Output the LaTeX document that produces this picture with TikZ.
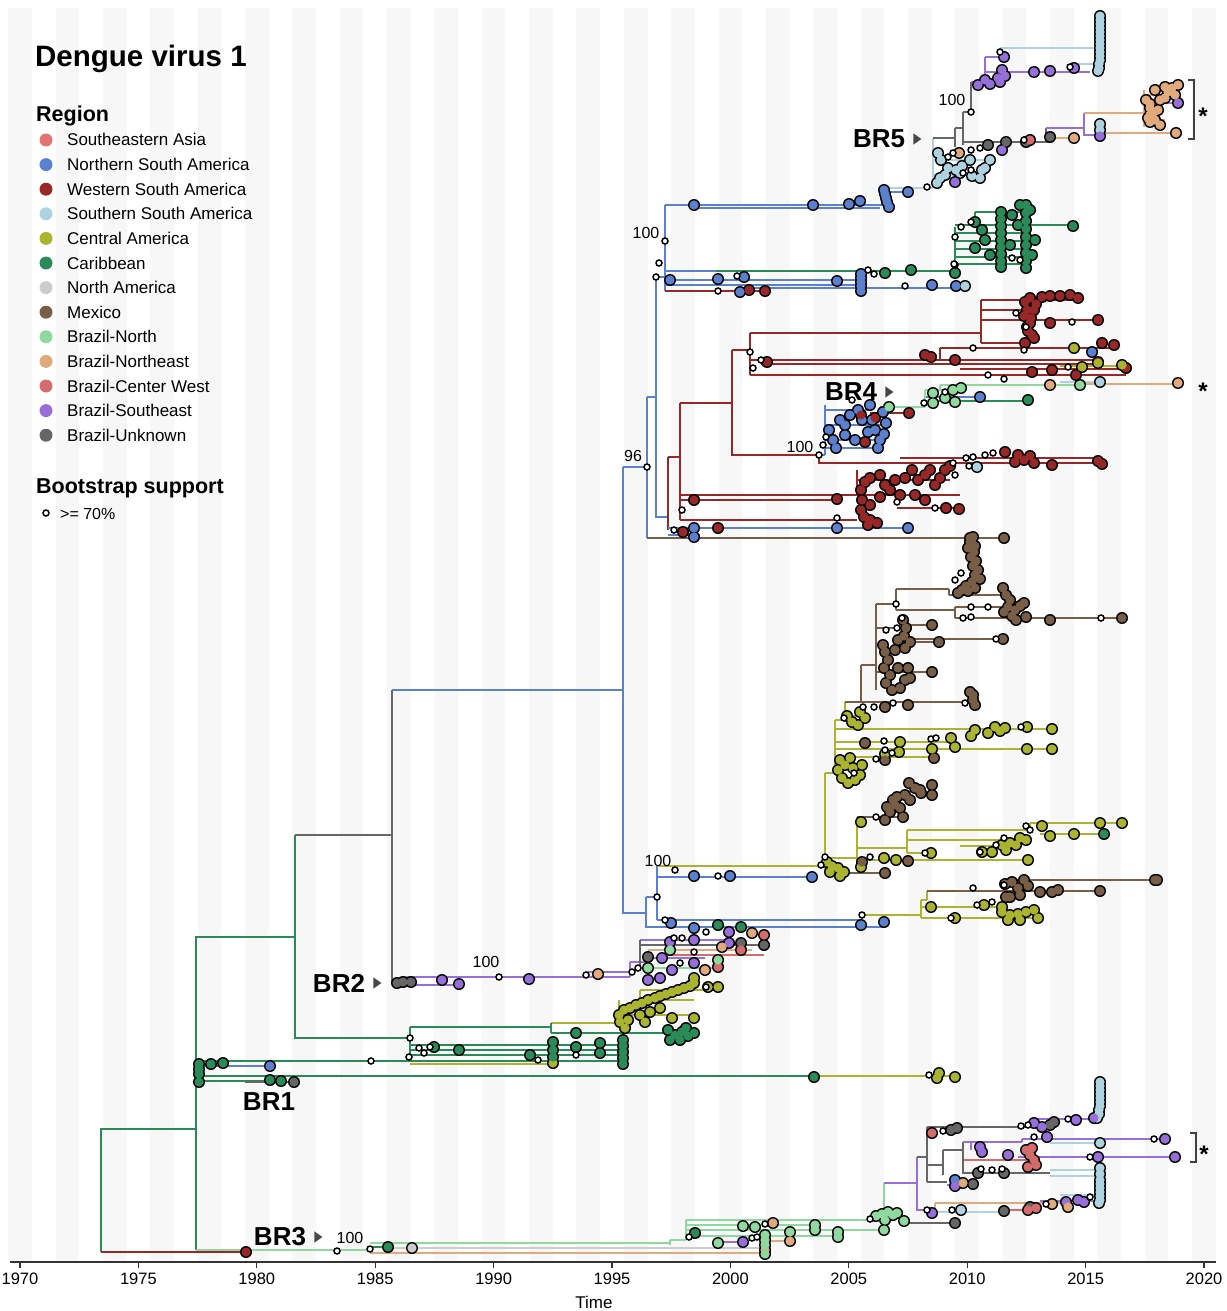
\documentclass[tikz,border=0pt]{standalone}
\usepackage{fontspec}
\setmainfont{Liberation Sans}
\usetikzlibrary{positioning,shapes.geometric}

\definecolor{seasia}{RGB}{226,116,116}
\definecolor{nsam}{RGB}{91,128,206}
\definecolor{wsam}{RGB}{152,40,40}
\definecolor{ssam}{RGB}{174,210,224}
\definecolor{cam}{RGB}{171,180,48}
\definecolor{carib}{RGB}{42,139,88}
\definecolor{nam}{RGB}{204,204,204}
\definecolor{mex}{RGB}{120,94,70}
\definecolor{brn}{RGB}{143,216,158}
\definecolor{brne}{RGB}{224,170,124}
\definecolor{brcw}{RGB}{212,108,108}
\definecolor{brse}{RGB}{150,112,216}
\definecolor{brunk}{RGB}{102,102,102}
\definecolor{stripegray}{RGB}{247,247,247}

\tikzset{
  br/.style={line width=2.8pt},
  bootdot/.style={draw=black,fill=white,line width=1.5pt},
  brlbl/.style={font=\fontsize{26}{28}\selectfont\bfseries,inner sep=0pt},
  bslbl/.style={font=\fontsize{16}{18}\selectfont,inner sep=0pt},
  brmark/.style={isosceles triangle,isosceles triangle apex angle=70,
    fill=black!72,inner sep=0pt,minimum size=8pt},
  starlbl/.style={font=\fontsize{24}{26}\selectfont\bfseries,inner sep=0pt},
  bracketln/.style={draw=black!75,line width=1.5pt},
  legtitle/.style={font=\fontsize{21.5}{24}\selectfont\bfseries,anchor=base west,inner sep=0pt},
  legtxt/.style={font=\fontsize{17}{19}\selectfont,anchor=base west,inner sep=0pt},
  ticklbl/.style={font=\fontsize{16.5}{18}\selectfont,anchor=base,inner sep=0pt},
  axisln/.style={draw=black!80,line width=1.2pt},
}
\newcommand\tiprims[1]{\foreach \tx/\ty in #1{\fill[black] (\tx,\ty) circle[radius=6pt];}}
\newcommand\tipfills[2]{\foreach \tx/\ty in #2{\fill[#1] (\tx,\ty) circle[radius=4.6pt];}}
\newcommand\bootdots[1]{\foreach \tx/\ty in {#1}{\filldraw[bootdot] (\tx,\ty) circle[radius=3pt];}}

\begin{document}
\begin{tikzpicture}[x=1pt,y=-1pt]
  \useasboundingbox (0,0) rectangle (1226,1311);
  \foreach \k in {0,...,25}
    \fill[stripegray] ({20+23.68*(2*\k-0.5)},8) rectangle ++(23.68,1254);
  \draw[axisln] (10,1262) -- (1216,1262);
  \foreach \yr [count=\i from 0] in {1970,1975,...,2020}{
    \draw[axisln] ({20+118.4*\i},1262) -- ++(0,6);
    \node[ticklbl] (tick\yr) at ({20+118.4*\i},1284) {\yr};
  }
  \node[ticklbl,font=\fontsize{17}{19}\selectfont] (timelbl) at (594,1308) {Time};

  % legend
  \node[anchor=base west,inner sep=0pt,font=\fontsize{29.5}{32}\selectfont\bfseries] (title) at (35,67) {Dengue virus 1};
  \node[legtitle] (regionhd) at (36,122) {Region};
  \foreach \c/\t [count=\i] in {seasia/Southeastern Asia,nsam/Northern South America,
      wsam/Western South America,ssam/Southern South America,cam/Central America,
      carib/Caribbean,nam/North America,mex/Mexico,brn/Brazil-North,brne/Brazil-Northeast,
      brcw/Brazil-Center West,brse/Brazil-Southeast,brunk/Brazil-Unknown}{
    \fill[\c] (46,{115.4+24.6*\i}) circle[radius=6.5pt];
    \node[legtxt] (leg\i) at (67,{121.4+24.6*\i}) {\t};
  }
  \node[legtitle] (boothd) at (36,493) {Bootstrap support};
  \filldraw[bootdot] (46,513) circle[radius=3pt];
  \node[legtxt,font=\fontsize{16}{18}\selectfont] (bootkey) at (60,519) {>= 70\%};

  % backbone
  \draw[br,carib] (295,937) -| (196,1250) (196,1129) -| (101,1252);
  \draw[br,wsam] (101,1252) -- (246,1252);
  \draw[br,carib] (295,835) -- (295,1038) -- (410,1038);
  \draw[br,brunk] (295,835) -- (392,835) (392,690) -- (392,983) -- (411,983);
  \draw[br,nsam] (392,690) -- (623,690) (623,467) -- (623,913) -- (646,913) (623,467) -- (647,467)
    (647,397) -- (647,538) (647,397) -- (656,397) (656,277) -- (656,517) -- (668,517)
    (656,277) -- (665,277) (665,205) -- (665,291);
  \draw[br,mex] (647,538) -- (1004,538);
  \draw[br,wsam] (668,457) -- (668,530) (668,457) -- (680,457) (680,403) -- (680,520)
    (680,403) -- (732,403) (732,350) -- (732,455) -- (819,455) (732,350) -- (750,350) (750,333) -- (750,375);

  % BR5 and northern south america
  \draw[br,nsam] (665,205) -- (885,205) (690,208) -- (880,208) (885,192) -- (908,192)
    (665,280) -- (861,280) (665,285) -- (861,285) (740,288) -- (965,288) (665,271) -- (716,271);
  \draw[br,wsam] (665,291) -- (765,291);
  \draw[br,carib] (716,271) -- (955,271);
  \draw[br,ssam] (885,188) -- (933,188) (933,138) -- (933,188) (933,160) -- (990,160) (933,175) -- (985,175)
    (1000,48) -- (1100,48) (1000,48) -- (1000,57) (1074,64) -- (1100,64);
  \draw[br,brunk] (933,138) -- (955,138) (955,128) -- (955,147) (955,128) -- (963,128) (963,112) -- (963,145)
    (963,112) -- (971,112) (971,82) -- (971,112) (963,142) -- (1050,142) (1046,128) -- (1046,142);
  \draw[br,brse] (971,82) -- (985,82) (985,57) -- (985,82) (985,57) -- (1000,57) (985,72) -- (1090,72)
    (1046,128) -- (1084,128) (1084,113) -- (1084,135) -- (1100,135) (1155,103) -- (1178,103);
  \draw[br,brne] (1050,138) -- (1074,138) (1084,113) -- (1144,113) (1100,133) -- (1176,133)
    (1144,90) -- (1144,127) (1144,95) -- (1170,95) (1144,120) -- (1165,120);
  \draw[br,carib] (955,227) -- (955,270) (955,225) -- (1073,225) (955,233) -- (1026,233) (955,241) -- (1030,241)
    (955,249) -- (1026,249) (955,257) -- (1030,257) (955,264) -- (1026,264) (975,212) -- (1026,212) (975,212) -- (975,225);

  % western south america and BR4
  \draw[br,wsam] (750,333) -- (981,333) (981,300) -- (981,343) (981,300) -- (1078,300) (981,310) -- (1040,310)
    (981,320) -- (1098,320) (981,343) -- (1030,343) (750,360) -- (1098,360) (761,364) -- (1098,364)
    (940,348) -- (1114,348) (940,348) -- (940,360) (750,375) -- (1126,375) (960,369) -- (1126,369)
    (870,413) -- (909,413) (819,455) -- (819,463) -- (1102,463) (900,458) -- (1100,458)
    (680,500) -- (837,500) (680,495) -- (960,495) (857,470) -- (857,495) (857,480) -- (950,480)
    (897,508) -- (959,508) (680,520) -- (857,520);
  \draw[br,cam] (1060,366) -- (1122,366);
  \draw[br,nsam] (819,455) -- (825,455) (825,405) -- (825,455) (825,410) -- (870,410) (825,425) -- (886,425)
    (825,440) -- (884,440) (825,448) -- (880,448) (925,397) -- (980,397) (668,528) -- (909,528) (668,535) -- (700,535);
  \draw[br,brn] (880,407) -- (925,407) (925,390) -- (925,407) (925,390) -- (961,390) (940,385) -- (1080,385) (940,385) -- (940,390);
  \draw[br,carib] (935,401) -- (1028,401);
  \draw[br,brne] (1080,384) -- (1178,384);
  \draw[br,ssam] (1060,382) -- (1100,382);

  % mexico and central america
  \draw[br,nsam] (646,897) -- (646,928) (646,897) -- (657,897) (657,866) -- (657,920) (657,877) -- (812,877)
    (657,920) -- (862,920) (646,927) -- (884,927);
  \draw[br,cam] (657,866) -- (825,866) (825,773) -- (825,873) (825,773) -- (835,773) (835,720) -- (835,773)
    (835,720) -- (845,720) (845,702) -- (845,720) (825,873) -- (845,873);
  \draw[br,mex] (845,702) -- (969,702) (861,665) -- (861,702) (861,665) -- (876,665) (876,604) -- (876,690)
    (876,672) -- (932,672) (876,604) -- (896,604) (896,589) -- (896,610) (896,589) -- (949,589) (949,589) -- (949,595)
    (949,595) -- (1005,595) (896,610) -- (955,610) (955,607) -- (955,618) (955,607) -- (1020,607) (955,618) -- (1122,618)
    (876,628) -- (905,628) (905,625) -- (905,648) (905,625) -- (932,625) (905,642) -- (939,642) (905,639) -- (1003,639)
    (857,817) -- (903,817) (845,873) -- (885,873);
  \draw[br,cam] (835,729) -- (1052,729) (835,742) -- (953,742) (835,749) -- (1052,749) (835,757) -- (934,757)
    (845,716) -- (865,716) (825,858) -- (857,858) (857,817) -- (857,866) (857,848) -- (907,848) (907,830) -- (907,853)
    (907,830) -- (1030,830) (1030,823) -- (1122,823) (1030,823) -- (1030,830) (907,840) -- (1026,840) (907,853) -- (931,853)
    (1040,834) -- (1104,834) (857,860) -- (1028,860) (960,846) -- (1020,846);
  \draw[br,cam] (862,915) -- (921,915) (921,900) -- (921,918) (921,918) -- (1038,918) (921,907) -- (1002,907)
    (921,900) -- (927,900) (927,891) -- (927,900);
  \draw[br,mex] (927,891) -- (1100,891) (1004,880) -- (1004,891) (1004,880) -- (1156,880);

  % BR2, BR1 and the caribbean
  \draw[br,brse] (401,977) -- (630,977) (401,985) -- (459,985) (587,972) -- (630,972) (630,962) -- (630,977)
    (630,962) -- (648,962) (640,940) -- (729,940) (648,958) -- (705,958);
  \draw[br,brunk] (640,945) -- (764,945) (640,940) -- (640,968);
  \draw[br,brne] (648,950) -- (752,950);
  \draw[br,brcw] (670,955) -- (764,955);
  \draw[br,brn] (648,968) -- (718,968);
  \draw[br,cam] (551,1023) -- (619,1023) (619,1000) -- (619,1025) (619,1015) -- (694,1015) (640,990) -- (640,1005)
    (640,1000) -- (694,1000) (640,990) -- (718,990);
  \draw[br,carib] (410,1027) -- (410,1061) (410,1027) -- (551,1027) (551,1023) -- (551,1033) (551,1033) -- (690,1033)
    (410,1045) -- (623,1045) (410,1050) -- (623,1050) (410,1055) -- (623,1055) (196,1061) -- (623,1061)
    (196,1076) -- (814,1076) (196,1081) -- (281,1081);
  \draw[br,cam] (410,1064) -- (553,1064) (814,1076) -- (955,1076);
  \draw[br,nsam] (205,1066) -- (270,1066);
  \draw[br,brunk] (245,1082) -- (294,1082);

  % BR3
  \draw[br,brn] (196,1250) -- (370,1250) (370,1243) -- (670,1243) (670,1240) -- (670,1245) (670,1240) -- (686,1240)
    (686,1220) -- (686,1240) (686,1220) -- (884,1220) (686,1225) -- (815,1225) (686,1230) -- (884,1230)
    (686,1236) -- (838,1236) (884,1183) -- (884,1220);
  \draw[br,nam] (388,1248) -- (760,1248);
  \draw[br,brne] (370,1253) -- (765,1253) (765,1241) -- (790,1241) (935,1203) -- (1068,1203) (935,1203) -- (935,1212);
  \draw[br,carib] (370,1247) -- (388,1247);
  \draw[br,brse] (720,1242) -- (743,1242) (884,1183) -- (917,1183) (917,1157) -- (917,1210) -- (935,1210)
    (1040,1201) -- (1100,1201);
  \draw[br,brunk] (904,1223) -- (955,1223);
  \draw[br,ssam] (935,1212) -- (1000,1212) (1060,1195) -- (1100,1195);
  \draw[br,brcw] (1000,1210) -- (1036,1210) (963,1160) -- (1030,1160);
  \draw[br,brunk] (917,1157) -- (927,1157) (927,1127) -- (927,1182) (927,1127) -- (1054,1127) (927,1182) -- (947,1182)
    (927,1165) -- (943,1165) (943,1150) -- (943,1175) (943,1150) -- (963,1150) (963,1142) -- (963,1173) -- (1050,1173);
  \draw[br,brse] (947,1185) -- (973,1185) (1034,1119) -- (1098,1119) (963,1142) -- (1022,1142) (971,1142) -- (971,1150)
    (1022,1139) -- (1165,1139) (1022,1139) -- (1022,1142) (1018,1157) -- (1175,1157);
  \draw[br,ssam] (1050,1143) -- (1100,1143) (1050,1170) -- (1100,1170) (1050,1176) -- (1100,1176);

  % tips
  \def\nsamtips{694/205,813/205,849/204,860/201,884/190,885/194,886/198,887/202,889/207,908/192,
    670/280,718/279,744/277,837/281,861/274,861/278,861/282,861/286,861/291,932/285,956/286,740/292,1092/352,980/397,
    829/430,833/440,836/448,845/425,850/415,858/410,862/420,870/405,875/430,880/440,883/412,886/423,884/434,
    878/448,840/420,845/435,855/440,868/432,872/420,837/528,908/528,694/528,694/537,694/876,730/876,812/877,
    671/923,884/922,861/925,694/928,270/1066,955/1180}
  \def\wsamtips{749/290,765/291,1025/302,1030/298,1036/304,1042/297,1050/296,1060/296,1070/295,1078/298,
    1024/316,1030/323,1028/331,1034/338,1025/343,1027/310,1031/318,1027/327,1032/335,1098/320,1050/323,1034/310,
    767/362,925/355,931/357,955/360,1098/362,1102/343,1114/345,1032/372,1052/370,1076/375,1126/368,861/415,
    865/442,875/418,909/413,1005/452,1018/455,1024/460,1030/456,1034/463,1015/462,1052/465,1098/461,1102/464,
    694/500,837/499,861/490,865/482,870/478,880/475,885/485,890/490,895/480,905/478,912/470,918/480,925/475,
    930/470,935/485,940/478,945/470,950/466,880/497,900/495,915/495,925/500,862/500,870/505,946/508,959/509,
    861/510,864/517,870/520,877/523,868/525,718/528,683/532,246/1252}
  \def\ssamtips{938/153,941/160,945/175,937/183,940/178,956/170,962/166,970/160,985/168,990/160,972/176,
    980/178,982/170,960/173,948/168,1100/16,1100/20,1100/24,1100/28,1100/32,1100/36,1100/40,1100/44,1100/48,
    1100/52,1100/56,1100/60,1099/64,1099/68,1098/71,1100/124,1100/130,965/286,977/467,1100/382,1100/1082,
    1100/1086,1100/1090,1100/1094,1100/1098,1100/1102,1100/1106,1099/1110,1099/1114,1097/1118,1100/1143,
    1100/1168,1100/1174,961/1210,1100/1180,1100/1184,1100/1188,1100/1192,1100/1196,1100/1200,1099/1203}
  \def\camtips{1074/348,1082/367,1098/363,1122/365,847/716,852/722,858/725,865/718,860/712,1027/727,1052/729,
    971/736,988/733,1000/731,951/738,975/730,995/727,1005/728,900/742,955/747,1027/749,1052/749,932/749,899/752,
    885/754,840/760,845/765,838/770,842/778,848/783,855/780,860/775,853/768,862/765,850/758,861/822,1122/823,
    1042/826,1100/823,1074/834,1050/836,1026/840,1016/845,1002/845,1006/850,982/852,992/852,1010/843,1020/838,
    931/853,1028/860,896/860,884/858,861/867,827/862,832/866,838/868,844/872,840/876,830/872,931/907,984/905,
    1002/907,955/918,1002/912,1010/915,1018/914,1026/912,1034/910,1038/918,1008/920,1020/920,
    619/1015,624/1010,630/1008,636/1005,642/1003,648/1000,655/998,660/996,666/994,672/992,678/990,684/988,
    690/986,694/983,694/978,620/1022,628/1020,625/1028,640/1015,650/1012,645/1022,660/1008,672/1018,694/1018,
    708/987,718/987,553/1063,939/1073,955/1077,937/1078}
  \def\caribtips{885/273,911/270,955/273,1073/226,1001/212,1001/219,1001/226,1001/233,1001/240,1001/247,
    1001/254,1001/261,1001/267,1026/205,1026/213,1026/221,1026/229,1026/237,1026/245,1026/253,1026/261,1026/268,
    975/222,982/230,985/240,975/248,990/255,1012/215,1018/225,1010/245,1035/240,1032/255,1020/205,1030/210,
    1028/400,718/925,741/927,668/1030,675/1035,682/1032,688/1036,694/1033,680/1040,670/1040,686/1028,
    434/1047,459/1050,576/1047,553/1042,553/1050,553/1057,600/1043,600/1053,623/1040,623/1046,623/1052,
    623/1058,623/1064,530/1055,576/1033,211/1064,223/1063,199/1064,199/1069,199/1074,199/1082,270/1080,
    281/1081,814/1077,388/1247,695/1233,1104/834}
  \def\mextips{1004/538,973/537,970/542,975/546,970/538,972/543,968/548,974/552,971/557,976/561,973/566,
    978/570,975/575,980/579,972/582,966/586,975/588,962/590,958/593,968/591,1003/588,1006/595,1010/600,
    1008/607,1004/612,1015/610,1020/606,1024/603,1012/616,1026/617,1016/620,1050/620,1122/618,903/620,906/628,
    904/636,910/642,905/648,898/640,932/625,939/642,1003/639,883/645,885/652,888/660,884/668,890/675,886/683,
    892/690,900/688,905/680,898/668,908/668,910/678,895/650,932/672,885/707,908/705,973/695,973/700,975/705,
    970/692,865/743,934/758,885/760,932/785,932/795,921/793,909/783,897/797,887/807,903/817,885/820,915/788,
    905/795,895/805,890/812,900/808,910/800,920/790,893/800,908/861,862/862,885/873,1100/891,1058/890,
    1052/892,1040/892,1005/884,1012/882,1018/888,1024/880,1028/886,1020/895,1010/897,1006/897,1155/880,1157/880}
  \def\brunktips{988/145,1006/142,1026/142,1050/137,397/983,403/982,411/982,648/957,764/945,741/943,
    294/1082,955/1223,1004/1211,1030/1207,951/1130,957/1128,1050/1125,1054/1122,973/1184,1004/1173,978/1173}
  \def\brsetips{955/182,978/85,985/80,990/84,998/78,1005/76,1002/70,1000/82,1034/72,1050/71,1074/68,1004/57,
    1002/150,1100/136,1178/103,442/980,459/984,529/979,648/980,660/978,670/942,694/940,729/932,694/963,
    672/970,662/958,729/943,743/1242,932/1213,1066/1202,1078/1200,1084/1202,955/1186,1034/1123,1042/1127,
    1076/1120,1094/1118,980/1147,982/1152,1047/1137,1165/1139,1175/1157,1098/1157,1008/1155}
  \def\brnetips{959/153,1074/138,1176/133,1146/100,1150/108,1150/115,1150/122,1155/120,1160/125,1165/98,
    1160/100,1168/92,1172/88,1178/85,1175/95,1158/110,1155/90,1165/87,1150/104,1154/112,1148/118,1050/385,
    1178/383,598/974,752/933,722/947,705/970,765/1250,790/1241,773/1223,963/1183,1052/1204,1068/1207}
  \def\brcwtips{1030/140,764/935,741/950,718/967,932/1133,1028/1210,1036/1208,1026/1150,1030/1155,
    1034/1160,1036/1165,1028/1167,1032/1148}
  \def\brntips{889/407,933/393,933/403,953/390,955/402,961/388,945/398,1080/385,648/968,670/950,718/960,
    718/1243,765/1235,765/1240,765/1245,765/1254,790/1232,743/1226,755/1227,815/1225,815/1230,838/1232,
    838/1237,884/1230,876/1216,882/1214,888/1212,893/1215,897/1213,885/1220,904/1221}
  \def\namtips{412/1248}
  \tiprims\nsamtips \tiprims\wsamtips \tiprims\ssamtips \tiprims\camtips \tiprims\caribtips
  \tiprims\mextips \tiprims\brunktips \tiprims\brsetips \tiprims\brnetips \tiprims\brcwtips
  \tiprims\brntips \tiprims\namtips
  \tipfills{nsam}\nsamtips \tipfills{wsam}\wsamtips \tipfills{ssam}\ssamtips \tipfills{cam}\camtips
  \tipfills{carib}\caribtips \tipfills{mex}\mextips \tipfills{brunk}\brunktips \tipfills{brse}\brsetips
  \tipfills{brne}\brnetips \tipfills{brcw}\brcwtips \tipfills{brn}\brntips \tipfills{nam}\namtips

  % bootstrap nodes
  \bootdots{665/241,659/263,656/277,647/467,927/187,963/173,971/170,953/153,948/157,971/112,971/150,980/148,
    1024/140,1000/52,1070/67,737/276,868/270,874/274,955/265,905/286,718/291,961/227,971/222,955/237,954/264,
    1012/258,1020/260,750/352,761/360,973/348,1024/350,753/368,988/375,1004/379,1068/367,1016/313,1026/327,
    1072/322,819/455,826/437,823/445,852/400,924/403,945/392,953/463,966/458,973/457,985/455,993/453,969/466,
    897/502,935/508,955/475,837/518,674/530,682/510,955/580,961/573,896/604,971/607,988/607,963/618,971/617,
    1101/618,886/630,897/628,902/618,996/639,965/703,863/707,874/707,893/703,844/718,1021/727,931/739,936/738,
    884/741,885/750,892/753,876/759,854/773,876/817,1026/826,1030/830,980/852,996/845,1004/838,925/853,870/857,
    825/857,821/865,675/870,718/876,657/897,665/920,862/915,973/888,1004/885,977/905,992/902,951/918,
    499/977,586/975,674/938,682/938,706/932,694/952,680/963,638/968,632/972,706/987,410/1038,419/1048,
    424/1053,430/1047,409/1057,576/1055,538/1060,371/1061,929/1075,337/1251,370/1249,752/1238,757/1237,
    765/1224,689/1237,870/1219,927/1210,952/1210,1046/1204,1090/1197,943/1131,1021/1126,1028/1125,1068/1119,
    1034/1137,1154/1139,1090/1157,981/1169,992/1170,1002/1169}

  % clade labels
  \node[bslbl] (bs96) at (633,456) {96};
  \node[bslbl] (bsbr5) at (952,100) {100};
  \node[bslbl] (bsnsa) at (646,233) {100};
  \node[bslbl] (bsbr4) at (800,447) {100};
  \node[bslbl] (bscam) at (658,861) {100};
  \node[bslbl] (bsbr2) at (486,962) {100};
  \node[bslbl] (bsbr3) at (350,1238) {100};
  \node[brlbl] (br5) at (879,139) {BR5};
  \node[brmark,right=8pt of br5] (br5mark) {};
  \node[brlbl] (br4) at (851,392) {BR4};
  \node[brmark,right=8pt of br4] (br4mark) {};
  \node[brlbl] (br2) at (339,983) {BR2};
  \node[brmark,right=8pt of br2] (br2mark) {};
  \node[brlbl] (br1) at (269,1102) {BR1};
  \node[brlbl] (br3) at (280,1237) {BR3};
  \node[brmark,right=8pt of br3] (br3mark) {};
  \draw[bracketln] (1188,80) -- (1194,80) -- (1194,139) -- (1188,139);
  \draw[bracketln] (1190,1133) -- (1196,1133) -- (1196,1162) -- (1190,1162);
  \node[starlbl] (star1) at (1203,116) {*};
  \node[starlbl] (star2) at (1203,391) {*};
  \node[starlbl] (star3) at (1204,1154) {*};
\end{tikzpicture}
\end{document}
